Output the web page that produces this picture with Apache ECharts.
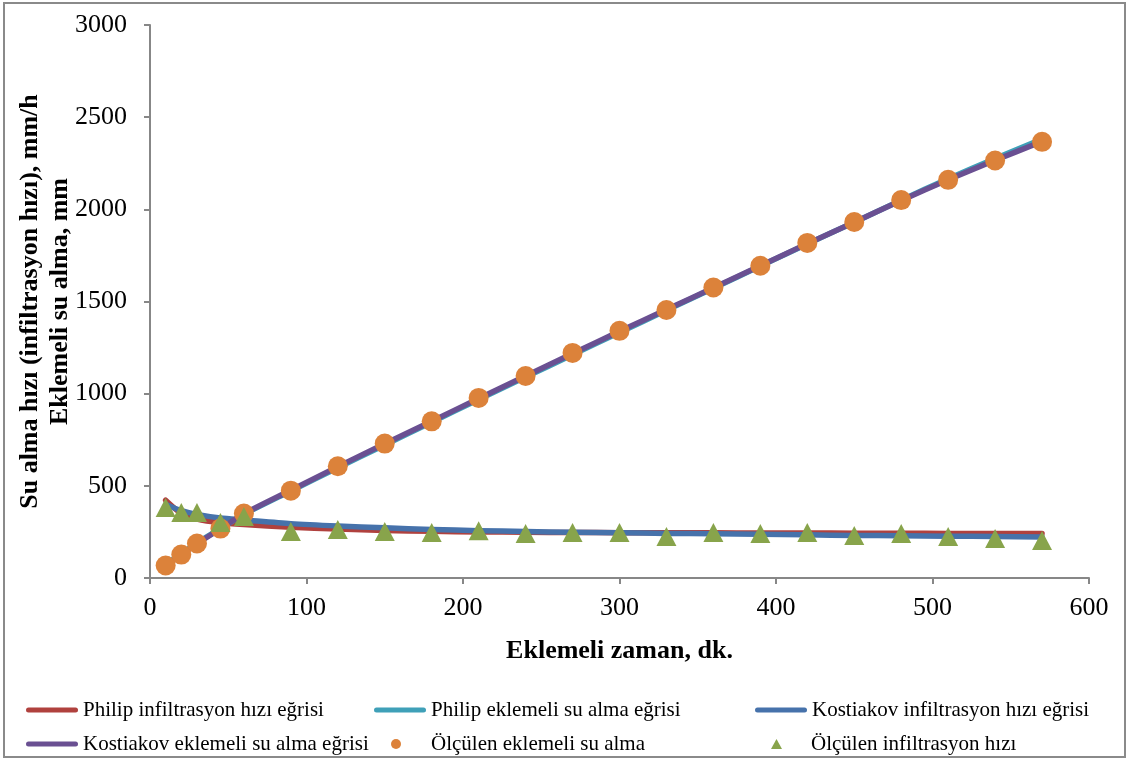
<!DOCTYPE html>
<html>
<head>
<meta charset="utf-8">
<script src="https://cdn.jsdelivr.net/npm/echarts@6/dist/echarts.min.js"></script>
<style>
  html, body { margin: 0; padding: 0; background: #fff; }
  #chart { width: 1129px; height: 762px; }
</style>
</head>
<body>
<div id="chart"></div>
<script>
// Cumulative time, minutes
const times = [10, 20, 30, 45, 60, 90, 120, 150, 180, 210, 240, 270, 300, 330, 360, 390, 420, 450, 480, 510, 540, 570];

// Infiltration rate model curves, mm/h
const philipRate    = [422, 350, 320, 300, 290, 275, 266, 258, 253, 250, 248, 247, 246, 245, 245, 244, 244, 243, 243, 242, 242, 241];
const kostiakovRate = [400, 365, 345, 325, 315, 295, 282, 272, 263, 257, 252, 248, 245, 242, 240, 237, 234, 231, 229, 227, 225, 223];

// Cumulative intake model curves, mm
const philipCum    = [75, 133, 190, 268, 345, 472, 598, 722, 845, 968, 1090, 1211, 1332, 1452, 1572, 1692, 1812, 1930, 2050, 2166, 2276, 2382];
const kostiakovCum = [66, 126, 186, 267, 348, 476, 604, 728, 850, 974, 1096, 1218, 1338, 1456, 1575, 1694, 1814, 1930, 2048, 2160, 2266, 2368];

// Measured values
const measuredCum  = [68, 127, 187, 268, 350, 474, 606, 729, 850, 977, 1096, 1221, 1341, 1454, 1576, 1694, 1818, 1931, 2050, 2160, 2265, 2366];
const measuredRate = [382, 355, 355, 301, 333, 252, 263, 252, 247, 257, 241, 247, 247, 225, 247, 241, 247, 230, 241, 225, 214, 203];

const names = {
  philipRate: 'Philip infiltrasyon hızı eğrisi',
  philipCum: 'Philip eklemeli su alma eğrisi',
  kostRate: 'Kostiakov infiltrasyon hızı eğrisi',
  kostCum: 'Kostiakov eklemeli su alma eğrisi',
  measCum: 'Ölçülen eklemeli su alma',
  measRate: 'Ölçülen infiltrasyon hızı'
};

const colors = {
  red: '#B0413E',
  cyan: '#3FA0B8',
  blue: '#4672AB',
  purple: '#6A5092',
  orange: '#DC823A',
  green: '#88A44B'
};

const pairs = (ys) => times.map((t, i) => [t, ys[i]]);

const FONT = '"Liberation Serif", "Times New Roman", serif';
const LINE_ICON = 'path://M2.5,0H49.5A2.5,2.5,0,0,1,49.5,5H2.5A2.5,2.5,0,0,1,2.5,0Z';
const TRI_ICON = 'path://M5,0L10,9L0,9Z';

const lineSeries = (name, ys, color) => ({
  name, type: 'line', data: pairs(ys), showSymbol: false, symbol: 'none',
  smooth: 0.25, lineStyle: { color, width: 5.5, cap: 'round', join: 'round' },
  itemStyle: { color }, z: 2, animation: false
});

// One legend block per entry: three columns, two rows
const legendItem = (name, icon, left, top, w, h, textPad) => ({
  left, top, orient: 'horizontal', itemWidth: w, itemHeight: h,
  textStyle: { fontFamily: FONT, fontSize: 21, lineHeight: 24, color: '#000', padding: [0, 0, 0, textPad] },
  itemStyle: { borderWidth: 0 }, selectedMode: false,
  data: [{ name, icon }]
});

const ROW1 = 693, ROW2 = 727;

const axisGray = '#878787';

const option = {
  backgroundColor: '#fff',
  animation: false,
  grid: { left: 150, right: 40, top: 25, bottom: 184, outerBoundsMode: 'none', containLabel: false },
  xAxis: {
    type: 'value', min: 0, max: 600, interval: 100,
    name: 'Eklemeli zaman, dk.', nameLocation: 'middle', nameGap: 60, nameMoveOverlap: false,
    nameTextStyle: { fontFamily: FONT, fontSize: 26, fontWeight: 'bold', color: '#000' },
    axisLine: { show: true, lineStyle: { color: axisGray, width: 2 } },
    axisTick: { show: true, length: 6, lineStyle: { color: axisGray, width: 2 } },
    axisLabel: { margin: 17, fontFamily: FONT, fontSize: 26, color: '#000', formatter: (v) => String(v) },
    splitLine: { show: false }
  },
  yAxis: {
    type: 'value', min: 0, max: 3000, interval: 500,
    name: 'Su alma hızı (infiltrasyon hızı), mm/h\nEklemeli su alma, mm',
    nameLocation: 'middle', nameGap: 75, nameRotate: 90, nameMoveOverlap: false,
    nameTextStyle: { fontFamily: FONT, fontSize: 26, fontWeight: 'bold', color: '#000', lineHeight: 30 },
    axisLine: { show: true, lineStyle: { color: axisGray, width: 2 } },
    axisTick: { show: true, length: 6, lineStyle: { color: axisGray, width: 2 } },
    axisLabel: { margin: 23, fontFamily: FONT, fontSize: 26, color: '#000', formatter: (v) => String(v) },
    splitLine: { show: false }
  },
  legend: [
    legendItem(names.philipRate, LINE_ICON, 21, ROW1, 52, 10, 0),
    legendItem(names.kostCum, LINE_ICON, 21, ROW2, 52, 10, 0),
    legendItem(names.philipCum, LINE_ICON, 369, ROW1, 52, 10, 0),
    legendItem(names.measCum, 'circle', 386, ROW2, 10, 10, 25),
    legendItem(names.kostRate, LINE_ICON, 750, ROW1, 52, 10, 0),
    legendItem(names.measRate, TRI_ICON, 766, ROW2, 11, 10, 24)
  ],
  graphic: [{
    type: 'rect', silent: true, z: -1,
    shape: { x: 4, y: 3, width: 1121, height: 754 },
    style: { fill: 'none', stroke: '#8a8a8a', lineWidth: 2 }
  }],
  series: [
    lineSeries(names.philipRate, philipRate, colors.red),
    lineSeries(names.philipCum, philipCum, colors.cyan),
    lineSeries(names.kostRate, kostiakovRate, colors.blue),
    lineSeries(names.kostCum, kostiakovCum, colors.purple),
    {
      name: names.measCum, type: 'scatter', data: pairs(measuredCum),
      symbol: 'circle', symbolSize: 20, itemStyle: { color: colors.orange, opacity: 1 }, z: 3
    },
    {
      name: names.measRate, type: 'scatter', data: pairs(measuredRate),
      symbol: 'triangle', symbolSize: [20, 19], itemStyle: { color: colors.green, opacity: 1 }, z: 4
    }
  ]
};

const chart = echarts.init(document.getElementById('chart'));
chart.setOption(option);
</script>
</body>
</html>
